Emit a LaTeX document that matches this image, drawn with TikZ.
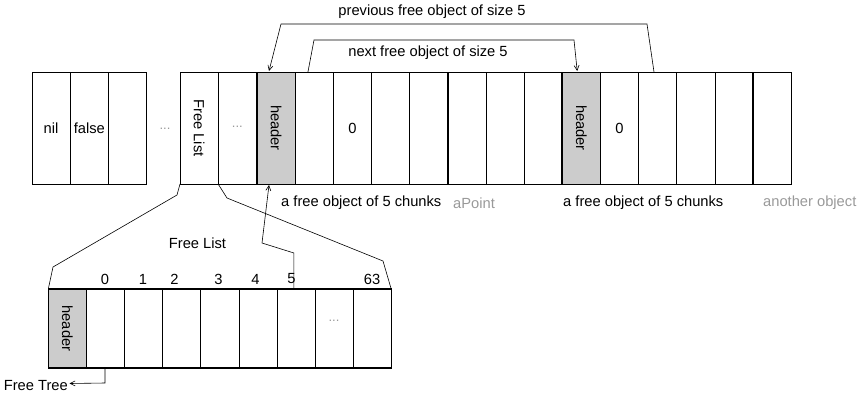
\documentclass[tikz,border=0pt]{standalone}
\usepackage{fontspec}
\setmainfont{Liberation Sans}
\usetikzlibrary{arrows.meta,calc}
\definecolor{hdrgray}{HTML}{CCCCCC}
\definecolor{txtgray}{HTML}{999999}
\tikzset{
  cell/.style={draw, rectangle, inner sep=0pt, outer sep=0pt, anchor=north west,
    minimum width=38.15pt, minimum height=112pt, line width=0.6pt},
  lcell/.style={draw, rectangle, inner sep=0pt, outer sep=0pt, anchor=north west,
    minimum width=38.1pt, minimum height=79pt, line width=0.6pt},
  hdr/.style={fill=hdrgray},
  sep/.style={line width=2pt},
  conn/.style={line width=0.6pt},
  arr/.style={line width=0.6pt, -{Straight Barb[length=5pt,width=5pt]}},
  lbl/.style={inner sep=0pt, font=\fontsize{14.7}{16}\selectfont},
  glbl/.style={lbl, text=txtgray},
  dots/.style={inner sep=0pt, text=txtgray, font=\fontsize{13}{14}\selectfont},
  rot/.style={rotate=-90, inner sep=0pt, font=\fontsize{14.7}{16}\selectfont}
}
\begin{document}
\begin{tikzpicture}[x=1pt,y=-1pt]
\useasboundingbox (0,0) rectangle (863,394);
% left group
\node[cell] (a1) at (32,72.5) {};
\node[cell] (a2) at (70.3,72.5) {};
\node[cell] (a3) at (108.6,72.5) {};
\node[lbl] at (a1.center) {nil};
\node[lbl] at (a2.center) {false};
\node[dots] (d1) at (165,129) {...};
% free list cell
\node[cell] (fl) at (180,72) {};
\node[cell] (fd) at (218.3,72) {};
\node[rot] at (fl.center) {Free List};
\node[dots] at ($(fd.center)+(0,-1)$) {...};
% main row
\foreach \i in {0,...,13} {
  \node[cell] (b\i) at ({257+38.15*\i},72) {};
}
\fill[hdrgray] (b0.north west) rectangle (b0.south east);
\fill[hdrgray] (b8.north west) rectangle (b8.south east);
\draw[line width=0.6pt] (b0.north west) rectangle (b0.south east);
\draw[line width=0.6pt] (b8.north west) rectangle (b8.south east);
\node[rot] at (b0.center) {header};
\node[rot] at (b8.center) {header};
\node[lbl] at (b2.center) {0};
\node[lbl] at (b9.center) {0};
\draw[sep] (b0.north west) -- (b0.south west);
\draw[sep] (b5.north west) -- (b5.south west);
\draw[sep] (b8.north west) -- (b8.south west);
\draw[sep] (b13.north west) -- (b13.south west);
% labels under main row
\node[lbl, anchor=west] (fo1) at (281,203) {a free object of 5 chunks};
\node[glbl, anchor=west] (ap) at (453,203) {aPoint};
\node[lbl, anchor=west] (fo2) at (563,203) {a free object of 5 chunks};
\node[glbl, anchor=west] (ao) at (763,203) {another object};
% top connectors
\coordinate (p0) at ($(b10.north west)+(15.5,0)$);
\coordinate (p1) at (647,24);
\coordinate (p2) at (281,24);
\coordinate (p3) at ($(b0.north west)+(12,-1)$);
\draw[arr] (p0) -- (p1) -- (p2) -- (p3);
\node[lbl] (prevl) at (432,12) {previous free object of size 5};
\coordinate (n0) at ($(b1.north west)+(12.8,0)$);
\coordinate (n1) at (314,40);
\coordinate (n2) at (574,40);
\coordinate (n3) at ($(b8.north west)+(15,-1)$);
\draw[arr] (n0) -- (n1) -- (n2) -- (n3);
\node[lbl] (nextl) at (428,52.5) {next free object of size 5};
% lower free list
\foreach \i in {0,...,8} {
  \node[lcell] (c\i) at ({48.3+38.1*\i},289) {};
}
\fill[hdrgray] (c0.north west) rectangle (c0.south east);
\draw[line width=0.6pt] (c0.north west) rectangle (c0.south east);
\node[rot] at (c0.center) {header};
\draw[line width=1.3pt] (c0.north west) rectangle (c8.south east);
\node[dots] at ($(c7.center)+(0,-8)$) {...};
\node[lbl] at (105,279) {0};
\node[lbl] at (143,279) {1};
\node[lbl] at (174.5,279) {2};
\node[lbl] at (218.5,279) {3};
\node[lbl] at (255.5,279) {4};
\node[lbl] at (291.5,279) {5};
\node[lbl] at (372,279) {63};
\node[lbl] (fll) at (197.5,243) {Free List};
% zoom lines
\coordinate (zl1) at (177,195);
\coordinate (zl2) at (53,267);
\draw[conn] (fl.south west) -- (zl1) -- (zl2) -- (c0.north west);
\coordinate (zr1) at (227,198);
\coordinate (zr2) at (383,261);
\draw[conn] (fl.south east) -- (zr1) -- (zr2) -- (c8.north east);
% arrow from slot 5 to header
\coordinate (s0) at ($(c6.north west)+(17,0)$);
\coordinate (s1) at ($(c6.north west)+(17,-36)$);
\coordinate (s2) at (262,243);
\coordinate (s3) at ($(b0.south west)+(12,1)$);
\draw[arr] (s0) -- (s1) -- (s2) -- (s3);
% free tree
\node[lbl, anchor=east] (ft) at (68,385.5) {Free Tree};
\coordinate (t1) at ($(c1.south west)+(18.6,15)$);
\draw[arr] ($(c1.south west)+(18.6,0)$) -- (t1) -- ($(ft.east)+(1.5,-2)$);
\end{tikzpicture}
\end{document}
